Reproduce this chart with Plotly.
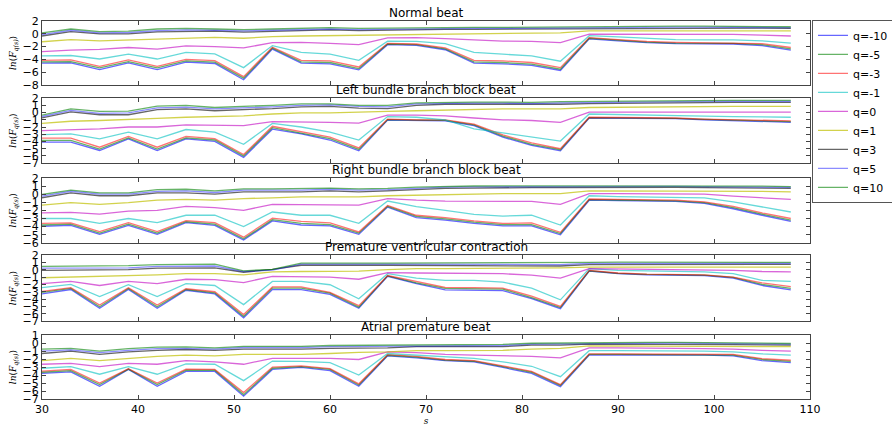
import plotly.graph_objects as go

s_values = [30, 33, 36, 39, 42, 45, 48, 51, 54, 57, 60, 63, 66, 69, 72, 75, 78, 81, 84, 87, 90, 93, 96, 99, 102, 105, 108]
q_labels = ["q=-10", "q=-5", "q=-3", "q=-1", "q=0", "q=1", "q=3", "q=5", "q=10"]
q_colors = ["rgba(0,0,255,0.6)", "rgba(0,128,0,0.6)", "rgba(255,0,0,0.55)", "rgba(0,191,191,0.6)",
            "rgba(191,0,191,0.6)", "rgba(191,191,0,0.7)", "rgba(0,0,0,0.6)", "rgba(0,0,255,0.45)",
            "rgba(0,128,0,0.6)"]
panel_titles = ["Normal beat", "Left bundle branch block beat", "Right bundle branch block beat",
                "Premature ventricular contraction", "Atrial premature beat"]
y_ranges = [[-8, 2], [-7, 2], [-6, 2], [-7, 2], [-7, 1]]
y_dticks = [2, 1, 1, 1, 1]

normal_beat = [
    [-4.6,-4.55,-5.6,-4.55,-5.6,-4.45,-4.65,-7.2,-2.4,-4.6,-4.7,-5.65,-1.7,-1.8,-2.5,-4.6,-4.7,-4.95,-5.75,-0.8,-1.1,-1.4,-1.55,-1.6,-1.6,-1.85,-2.55],
    [-4.4,-4.35,-5.35,-4.35,-5.35,-4.25,-4.45,-6.95,-2.25,-4.4,-4.5,-5.45,-1.6,-1.7,-2.35,-4.4,-4.5,-4.75,-5.55,-0.7,-1.0,-1.3,-1.45,-1.5,-1.5,-1.7,-2.35],
    [-4.15,-4.1,-5.1,-4.1,-5.1,-4.0,-4.2,-6.7,-2.1,-4.15,-4.25,-5.2,-1.5,-1.6,-2.2,-4.15,-4.25,-4.5,-5.3,-0.6,-0.9,-1.2,-1.35,-1.4,-1.4,-1.55,-2.15],
    [-3.45,-3.4,-3.95,-3.2,-3.95,-2.9,-3.15,-5.3,-1.85,-2.9,-3.2,-4.15,-1.15,-1.2,-1.55,-2.9,-3.2,-3.45,-4.3,-0.3,-0.5,-0.75,-0.9,-0.95,-0.95,-1.1,-1.45],
    [-2.8,-2.55,-2.45,-2.15,-2.4,-1.9,-2.0,-2.2,-1.4,-1.35,-1.5,-1.7,-0.65,-0.6,-0.75,-1.0,-1.15,-1.2,-1.4,-0.05,-0.05,-0.05,-0.05,-0.08,-0.1,-0.2,-0.35],
    [-1.25,-0.9,-1.1,-0.95,-0.8,-0.6,-0.55,-0.7,-0.45,-0.35,-0.3,-0.2,-0.1,-0.05,-0.05,0.0,0.1,0.1,0.15,0.45,0.45,0.47,0.5,0.5,0.5,0.48,0.45],
    [-0.35,0.35,0.0,0.0,0.3,0.4,0.4,0.25,0.4,0.55,0.6,0.5,0.6,0.7,0.7,0.7,0.72,0.75,0.75,0.8,0.85,0.9,0.9,0.9,0.9,0.88,0.85],
    [-0.15,0.55,0.15,0.2,0.5,0.6,0.55,0.45,0.55,0.7,0.75,0.65,0.7,0.85,0.85,0.85,0.85,0.9,0.9,0.95,1.0,1.05,1.05,1.05,1.05,1.0,0.95],
    [0.15,0.75,0.35,0.4,0.75,0.85,0.75,0.65,0.75,0.9,0.95,0.85,0.9,1.0,1.0,1.0,1.0,1.05,1.05,1.1,1.15,1.2,1.2,1.2,1.2,1.15,1.1],
]

lbbb_beat = [
    [-4.1,-4.1,-5.25,-3.65,-5.25,-3.65,-4.0,-6.2,-2.3,-2.95,-3.8,-5.3,-1.05,-1.1,-1.15,-1.8,-3.4,-4.55,-5.3,-0.75,-0.75,-0.75,-0.85,-1.0,-1.1,-1.25,-1.35],
    [-3.85,-3.85,-5.05,-3.5,-5.05,-3.5,-3.8,-6.0,-2.1,-2.8,-3.6,-5.1,-0.97,-1.05,-1.08,-1.7,-3.25,-4.4,-5.15,-0.7,-0.7,-0.7,-0.8,-0.95,-1.05,-1.2,-1.25],
    [-3.55,-3.55,-4.8,-3.3,-4.8,-3.3,-3.6,-5.8,-1.9,-2.6,-3.4,-4.9,-0.9,-1.0,-1.0,-1.6,-3.1,-4.2,-5.0,-0.65,-0.65,-0.65,-0.75,-0.9,-1.0,-1.1,-1.15],
    [-3.05,-2.95,-3.65,-2.7,-3.65,-2.35,-2.7,-4.4,-1.5,-2.0,-2.7,-3.8,-0.55,-0.65,-1.0,-2.25,-2.8,-3.4,-3.95,-0.2,-0.3,-0.35,-0.4,-0.5,-0.55,-0.6,-0.65],
    [-2.5,-2.4,-2.25,-2.0,-2.0,-1.7,-1.7,-1.8,-1.25,-1.25,-1.35,-1.45,-0.35,-0.35,-0.45,-0.75,-1.0,-1.1,-1.35,0.05,0.05,0.05,0.05,0.05,0.05,0.05,0.05],
    [-1.5,-1.2,-1.1,-1.0,-0.8,-0.65,-0.55,-0.45,-0.2,-0.05,-0.05,0.1,0.15,0.25,0.35,0.45,0.5,0.5,0.5,0.7,0.75,0.8,0.8,0.85,0.85,0.85,0.85],
    [-0.75,0.1,-0.3,-0.3,0.4,0.5,0.25,0.35,0.55,0.8,0.85,0.6,0.55,1.0,1.15,1.15,1.15,1.05,1.15,1.25,1.3,1.3,1.35,1.35,1.4,1.4,1.4],
    [-0.55,0.3,-0.1,-0.05,0.65,0.75,0.5,0.6,0.8,1.0,1.05,0.85,0.8,1.2,1.3,1.3,1.3,1.25,1.35,1.4,1.45,1.5,1.5,1.55,1.55,1.55,1.55],
    [-0.35,0.5,0.15,0.2,0.9,1.0,0.7,0.8,1.0,1.2,1.2,1.0,1.0,1.35,1.45,1.45,1.45,1.4,1.5,1.55,1.6,1.65,1.65,1.7,1.7,1.7,1.7],
]

rbbb_beat = [
    [-3.95,-3.85,-4.95,-3.85,-4.95,-3.5,-3.85,-5.65,-3.3,-3.8,-3.9,-4.95,-1.6,-2.9,-3.2,-3.6,-3.9,-3.9,-5.0,-0.75,-0.8,-0.85,-0.9,-1.15,-1.8,-2.6,-3.35],
    [-3.8,-3.7,-4.8,-3.7,-4.8,-3.4,-3.7,-5.5,-3.15,-3.6,-3.75,-4.8,-1.5,-2.75,-3.05,-3.45,-3.75,-3.75,-4.85,-0.68,-0.72,-0.78,-0.82,-1.05,-1.65,-2.45,-3.2],
    [-3.6,-3.55,-4.6,-3.5,-4.6,-3.25,-3.5,-5.3,-2.95,-3.35,-3.55,-4.65,-1.4,-2.6,-2.9,-3.3,-3.6,-3.55,-4.7,-0.6,-0.65,-0.7,-0.75,-0.95,-1.5,-2.3,-3.0],
    [-3.0,-3.0,-3.6,-3.0,-3.5,-2.6,-2.6,-4.0,-2.2,-2.6,-2.6,-3.6,-0.85,-1.55,-2.0,-2.5,-2.7,-2.6,-3.8,-0.2,-0.3,-0.35,-0.35,-0.45,-0.95,-1.55,-2.2],
    [-2.3,-2.25,-2.45,-2.1,-2.0,-1.5,-1.65,-2.0,-1.25,-1.3,-1.35,-1.35,-0.55,-0.75,-0.85,-0.85,-0.85,-0.9,-1.25,0.05,0.05,0.05,0.05,0.0,-0.25,-0.45,-0.65],
    [-1.35,-1.05,-1.25,-1.05,-0.75,-0.65,-0.75,-0.55,-0.45,-0.35,-0.35,-0.35,-0.2,-0.12,-0.05,0.0,0.07,0.07,0.07,0.4,0.4,0.4,0.4,0.4,0.38,0.35,0.28],
    [-0.45,0.15,-0.2,-0.2,0.15,0.15,0.0,0.28,0.28,0.28,0.4,0.28,0.4,0.55,0.7,0.75,0.8,0.8,0.8,0.82,0.82,0.82,0.82,0.8,0.78,0.75,0.7],
    [-0.25,0.35,0.0,0.0,0.35,0.4,0.2,0.48,0.5,0.5,0.6,0.5,0.55,0.7,0.85,0.9,0.92,0.92,0.92,0.95,0.95,0.95,0.95,0.92,0.9,0.88,0.82],
    [-0.05,0.5,0.15,0.15,0.55,0.6,0.4,0.65,0.65,0.7,0.75,0.65,0.7,0.85,0.95,1.0,1.02,1.02,1.02,1.05,1.05,1.05,1.05,1.02,1.0,0.98,0.92],
]

pvc_beat = [
    [-3.3,-2.7,-5.25,-2.7,-5.25,-2.8,-3.3,-6.55,-2.7,-2.7,-3.35,-5.25,-0.9,-1.9,-2.75,-2.75,-2.85,-3.95,-5.3,-0.2,-0.55,-0.7,-0.75,-0.8,-1.15,-2.15,-2.75],
    [-3.1,-2.55,-5.05,-2.55,-5.05,-2.7,-3.15,-6.35,-2.5,-2.5,-3.2,-5.1,-0.85,-1.8,-2.55,-2.6,-2.65,-3.8,-5.15,-0.15,-0.5,-0.65,-0.7,-0.75,-1.05,-2.0,-2.55],
    [-2.95,-2.45,-4.8,-2.45,-4.8,-2.6,-3.0,-6.1,-2.35,-2.35,-3.1,-4.9,-0.8,-1.65,-2.4,-2.45,-2.5,-3.6,-5.0,-0.1,-0.45,-0.6,-0.65,-0.7,-1.0,-1.8,-2.3],
    [-2.45,-2.0,-3.65,-2.05,-3.65,-1.9,-2.15,-4.75,-1.6,-1.6,-2.05,-3.95,-0.55,-1.15,-1.45,-1.45,-1.7,-2.5,-4.1,0.15,-0.1,-0.2,-0.3,-0.3,-0.55,-1.45,-1.6],
    [-1.9,-1.6,-2.15,-1.6,-1.9,-1.3,-1.35,-1.75,-0.9,-0.9,-1.0,-1.3,-0.4,-0.45,-0.45,-0.55,-0.55,-0.75,-1.15,0.15,0.1,0.05,0.02,0.0,-0.1,-0.25,-0.3],
    [-1.1,-1.0,-1.0,-0.85,-0.7,-0.55,-0.55,-0.7,-0.3,-0.25,-0.2,-0.2,0.0,0.15,0.15,0.15,0.15,0.15,0.25,0.35,0.35,0.35,0.35,0.35,0.35,0.35,0.35],
    [-0.1,-0.1,-0.1,0.0,0.2,0.25,0.25,-0.35,0.05,0.6,0.65,0.6,0.6,0.6,0.6,0.6,0.6,0.6,0.5,0.7,0.72,0.72,0.72,0.72,0.72,0.72,0.72],
    [0.2,0.2,0.2,0.25,0.45,0.5,0.5,-0.25,-0.05,0.75,0.8,0.75,0.75,0.75,0.75,0.75,0.75,0.75,0.7,0.85,0.87,0.87,0.87,0.87,0.87,0.87,0.87],
    [0.45,0.45,0.45,0.55,0.7,0.75,0.75,-0.15,0.05,0.9,0.95,0.9,0.9,0.9,0.9,0.9,0.9,0.9,0.9,1.0,1.02,1.02,1.02,1.02,1.0,1.0,1.0],
]

apb_beat = [
    [-3.8,-3.6,-5.4,-3.3,-5.4,-3.55,-3.55,-6.65,-3.3,-3.05,-3.45,-5.4,-1.6,-1.85,-2.2,-2.35,-3.05,-3.8,-5.45,-1.5,-1.5,-1.5,-1.5,-1.5,-1.6,-2.2,-2.45],
    [-3.65,-3.45,-5.2,-3.25,-5.2,-3.4,-3.4,-6.45,-3.15,-2.95,-3.3,-5.25,-1.52,-1.75,-2.12,-2.27,-2.95,-3.65,-5.3,-1.42,-1.42,-1.42,-1.42,-1.42,-1.5,-2.05,-2.3],
    [-3.5,-3.3,-5.0,-3.2,-5.0,-3.25,-3.3,-6.2,-3.0,-2.85,-3.2,-5.1,-1.45,-1.65,-2.05,-2.2,-2.85,-3.55,-5.2,-1.35,-1.35,-1.35,-1.35,-1.35,-1.4,-1.95,-2.15],
    [-3.15,-2.95,-3.9,-2.95,-3.9,-2.6,-2.65,-4.7,-2.25,-2.3,-2.45,-4.0,-1.3,-1.5,-1.65,-1.9,-2.35,-2.9,-4.2,-0.95,-0.95,-0.95,-1.0,-1.0,-1.1,-1.35,-1.5],
    [-2.65,-2.55,-2.95,-2.55,-2.65,-2.2,-2.35,-2.65,-1.9,-1.9,-1.9,-2.05,-1.1,-1.2,-1.4,-1.5,-1.6,-1.65,-1.85,-0.6,-0.6,-0.6,-0.65,-0.7,-0.75,-0.9,-1.0],
    [-2.2,-1.9,-2.2,-1.9,-1.65,-1.5,-1.6,-1.4,-1.4,-1.4,-1.3,-1.15,-1.1,-0.95,-0.95,-0.95,-0.9,-0.75,-0.65,-0.35,-0.35,-0.35,-0.35,-0.38,-0.4,-0.43,-0.45],
    [-1.3,-1.0,-1.4,-1.1,-0.9,-0.8,-0.9,-0.75,-0.75,-0.75,-0.65,-0.6,-0.6,-0.45,-0.45,-0.45,-0.45,-0.25,-0.25,-0.12,-0.12,-0.12,-0.12,-0.15,-0.18,-0.22,-0.25],
    [-1.0,-0.85,-1.2,-0.9,-0.7,-0.65,-0.75,-0.55,-0.55,-0.55,-0.45,-0.42,-0.4,-0.3,-0.3,-0.3,-0.3,-0.12,-0.1,0.0,0.0,0.0,0.0,-0.03,-0.05,-0.1,-0.12],
    [-0.75,-0.65,-1.0,-0.7,-0.5,-0.48,-0.6,-0.4,-0.4,-0.4,-0.3,-0.28,-0.25,-0.18,-0.18,-0.18,-0.15,-0.02,0.02,0.1,0.1,0.1,0.1,0.08,0.05,0.0,-0.05],
]

panels = [normal_beat, lbbb_beat, rbbb_beat, pvc_beat, apb_beat]

# panel vertical domains (paper fractions of plot area)
domains = [[0.831, 1.0], [0.624, 0.796], [0.413, 0.585], [0.206, 0.381], [0.0, 0.169]]

fig = go.Figure()
for p, data in enumerate(panels):
    for i, series in enumerate(data):
        fig.add_trace(go.Scatter(
            x=s_values, y=series, mode="lines", name=q_labels[i],
            line=dict(color=q_colors[i], width=1.3),
            xaxis="x" if p == 0 else f"x{p+1}",
            yaxis="y" if p == 0 else f"y{p+1}",
            showlegend=(p == 0),
        ))

axis_font = dict(family="DejaVu Sans", size=11, color="black")
layout = dict(
    width=892, height=426,
    margin=dict(l=42, r=82, t=21, b=27, autoexpand=False),
    paper_bgcolor="white", plot_bgcolor="white",
    font=dict(family="DejaVu Sans", size=11, color="black"),
    legend=dict(x=1.0026, y=1.003, xanchor="left", yanchor="top",
                bordercolor="#555555", borderwidth=1, bgcolor="white",
                font=dict(family="DejaVu Sans", size=11), tracegroupgap=0,
                itemwidth=30),
    showlegend=True,
)
annotations = []
for p in range(5):
    xname = "xaxis" if p == 0 else f"xaxis{p+1}"
    yname = "yaxis" if p == 0 else f"yaxis{p+1}"
    yref = "y" if p == 0 else f"y{p+1}"
    layout[xname] = dict(
        range=[30, 110], dtick=10, tick0=30, domain=[0, 1],
        anchor=yref, showgrid=False, zeroline=False,
        showline=True, linecolor="#444444", linewidth=1, mirror="ticks",
        ticks="inside", ticklen=4, tickcolor="#444444",
        showticklabels=(p == 4), tickfont=axis_font,
        matches=None if p == 0 else "x",
    )
    layout[yname] = dict(
        range=y_ranges[p], dtick=y_dticks[p], tick0=0, domain=domains[p],
        anchor="x" if p == 0 else f"x{p+1}",
        showgrid=False, zeroline=False,
        showline=True, linecolor="#444444", linewidth=1, mirror="ticks",
        ticks="inside", ticklen=4, tickcolor="#444444",
        tickfont=axis_font,
        title=dict(text="<i>ln</i>(<i>F</i><sub><i>q(s)</i></sub>)",
                   font=dict(family="DejaVu Serif", size=9), standoff=4),
    )
    annotations.append(dict(
        text=panel_titles[p], x=0.5, xref="paper", y=domains[p][1], yref="paper",
        xanchor="center", yanchor="bottom", showarrow=False, yshift=-1,
        font=dict(family="DejaVu Sans", size=12, color="black"),
    ))
layout["xaxis5"]["title"] = dict(text="<i>s</i>", font=dict(family="DejaVu Serif", size=9), standoff=2)
layout["annotations"] = annotations
fig.update_layout(**layout)

fig.write_html("out.html")
